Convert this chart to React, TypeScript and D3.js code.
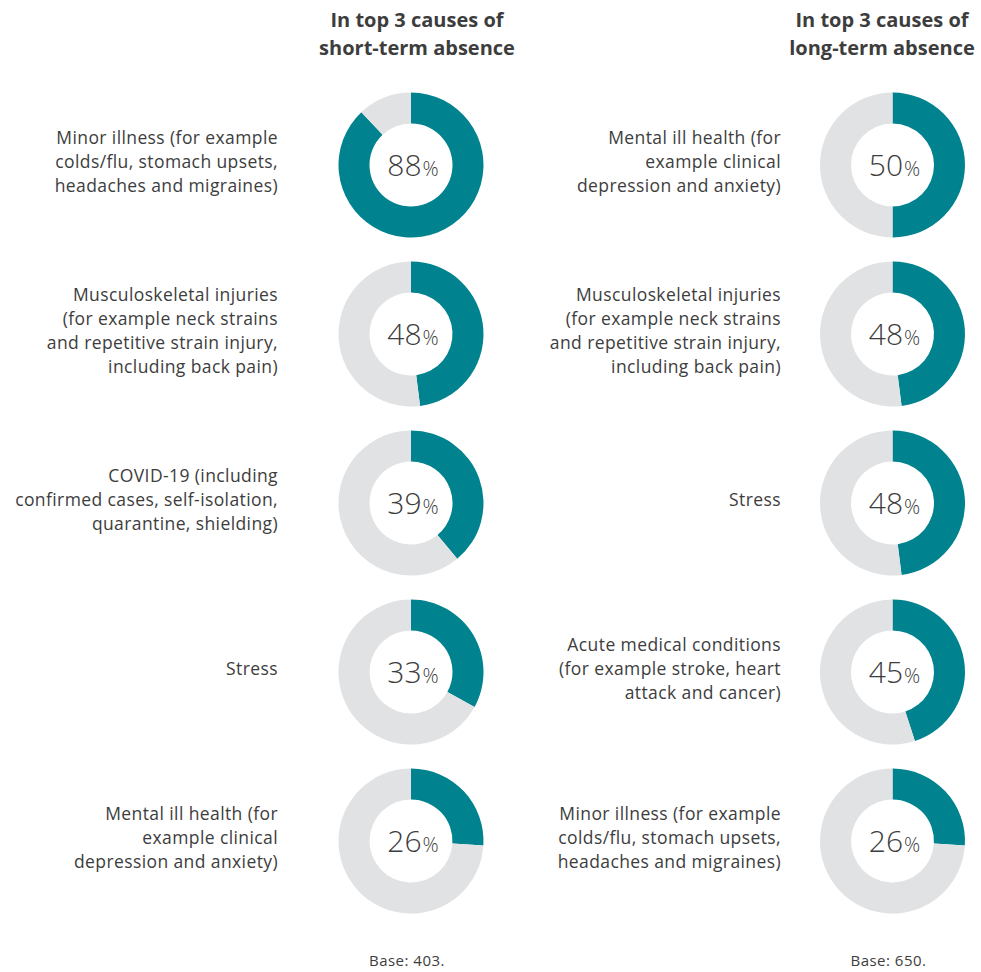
import * as d3 from 'd3'

const shortCauses = [
  'Minor illness (for example|colds/flu, stomach upsets,|headaches and migraines)',
  'Musculoskeletal injuries|(for example neck strains|and repetitive strain injury,|including back pain)',
  'COVID-19 (including|confirmed cases, self-isolation,|quarantine, shielding)',
  'Stress',
  'Mental ill health (for|example clinical|depression and anxiety)',
]
const shortValues = [88, 48, 39, 33, 26]

const longCauses = [
  'Mental ill health (for|example clinical|depression and anxiety)',
  'Musculoskeletal injuries|(for example neck strains|and repetitive strain injury,|including back pain)',
  'Stress',
  'Acute medical conditions|(for example stroke, heart|attack and cancer)',
  'Minor illness (for example|colds/flu, stomach upsets,|headaches and migraines)',
]
const longValues = [50, 48, 48, 45, 26]

const titles = [
  ['In top 3 causes of', 'short-term absence'],
  ['In top 3 causes of', 'long-term absence'],
]
const bases = ['Base: 403.', 'Base: 650.']

const W = 981
const H = 972
const TEAL = '#00838f'
const GREY = '#e1e2e4'
const TEXT = '#3d3d3d'
const FONT = "'Open Sans', 'DejaVu Sans', sans-serif"

const OUTER_R = 72.5
const INNER_R = 41.5
const LINE_H = 24.3

const rowY = d3.scaleLinear().domain([0, 4]).range([165, 841])

interface Column {
  cx: number
  labelX: number
  titleX: number
  causes: string[]
  values: number[]
  title: string[]
  base: string
}

const columns: Column[] = [
  { cx: 411, labelX: 278, titleX: 417, causes: shortCauses, values: shortValues, title: titles[0], base: bases[0] },
  { cx: 892.5, labelX: 781, titleX: 882, causes: longCauses, values: longValues, title: titles[1], base: bases[1] },
]

const arc = d3.arc<d3.PieArcDatum<number>>().innerRadius(INNER_R).outerRadius(OUTER_R)

function Donut({ value, cx, cy }: { value: number; cx: number; cy: number }) {
  const pie = d3.pie<number>().sort(null).value(d => d)
  const arcs = pie([value, 100 - value])
  return (
    <g transform={`translate(${cx},${cy})`}>
      {arcs.map((a, i) => (
        <path key={i} d={arc(a) || ''} fill={i === 0 ? TEAL : GREY} />
      ))}
      <text x={2} y={11} textAnchor="middle" fill={TEXT} fontFamily={FONT} fontWeight={300}>
        <tspan fontSize={30}>{value}</tspan>
        <tspan fontSize={20} dx={1}>%</tspan>
      </text>
    </g>
  )
}

export default function App() {
  return (
    <svg width={W} height={H} style={{ position: 'absolute', left: 0, top: 0 }}>
      <rect width={W} height={H} fill="white" />
      {columns.map((col, ci) => (
        <g key={ci}>
          {col.title.map((t, ti) => (
            <text
              key={ti}
              x={col.titleX}
              y={27 + ti * 28}
              textAnchor="middle"
              fontFamily={FONT}
              fontWeight={700}
              fontSize={20}
              fill={TEXT}
            >
              {t}
            </text>
          ))}
          {col.values.map((v, i) => {
            const cy = rowY(i)
            const lines = col.causes[i].split('|')
            const top = cy - 3 - ((lines.length - 1) * LINE_H) / 2
            return (
              <g key={i}>
                <text
                  textAnchor="end"
                  fontFamily={FONT}
                  fontSize={17.5}
                  letterSpacing={0.4}
                  fill={TEXT}
                  fontWeight={400}
                >
                  {lines.map((l, li) => (
                    <tspan key={li} x={col.labelX} y={top + li * LINE_H + 6}>
                      {l}
                    </tspan>
                  ))}
                </text>
                <Donut value={v} cx={col.cx} cy={cy} />
              </g>
            )
          })}
          <text
            x={col.cx - 4}
            y={966}
            textAnchor="middle"
            fontFamily={FONT}
            fontSize={15}
            letterSpacing={0.5}
            fill={TEXT}
            fontWeight={400}
          >
            {col.base}
          </text>
        </g>
      ))}
    </svg>
  )
}
